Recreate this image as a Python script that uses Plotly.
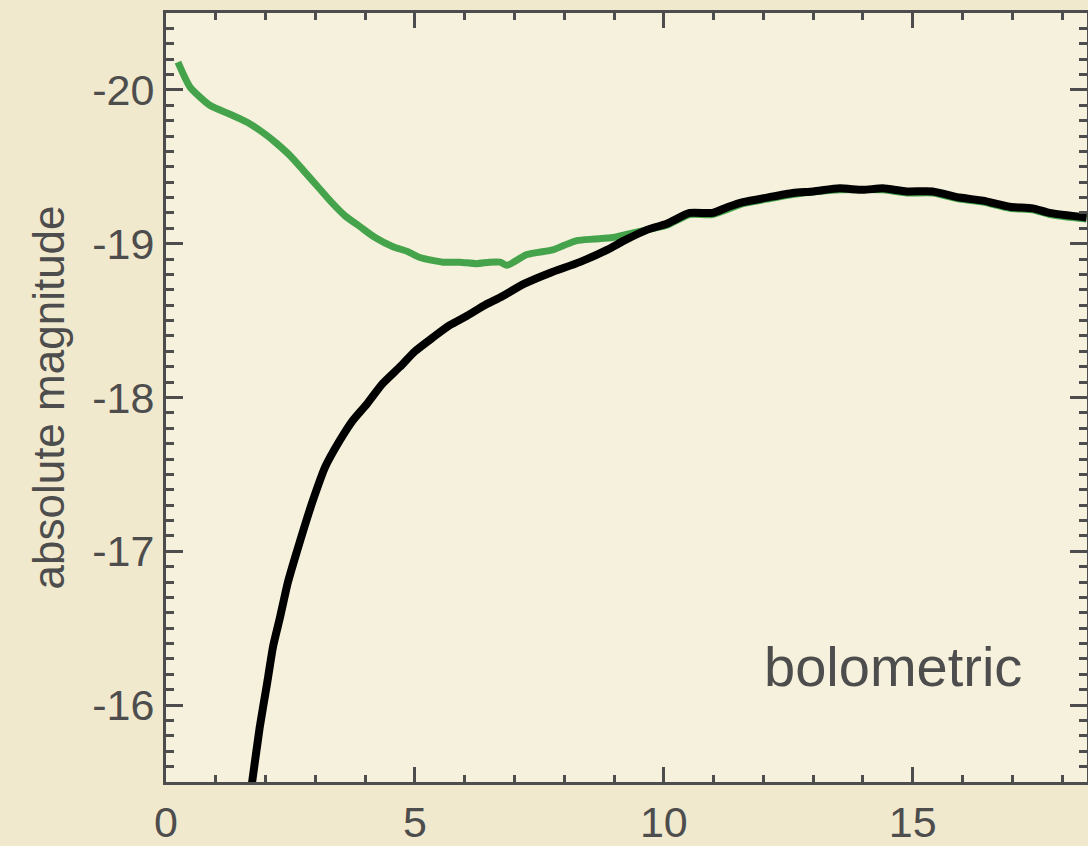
import plotly.graph_objects as go

# Green curve (e.g. total / with early excess)
green_t = [0.24, 0.48, 0.88, 1.30, 1.63, 2.00, 2.23, 2.50, 2.75, 3.05, 3.35, 3.60, 3.90,
           4.20, 4.56, 4.85, 5.10, 5.56, 5.90, 6.24, 6.50, 6.71, 6.85, 7.25, 7.77, 8.00,
           8.25, 8.60, 8.98, 9.38, 9.66, 10.06, 10.52, 10.98, 11.59, 12.07, 12.59, 13.53,
           14.40, 14.88, 15.40, 15.94, 16.41, 16.95, 17.41, 17.75, 18.49]
green_mag = [-20.18, -20.02, -19.90, -19.84, -19.79, -19.71, -19.65, -19.57, -19.48, -19.37,
             -19.26, -19.18, -19.11, -19.04, -18.98, -18.95, -18.91, -18.88, -18.88, -18.87,
             -18.88, -18.88, -18.86, -18.93, -18.96, -18.99, -19.02, -19.03, -19.04, -19.07,
             -19.09, -19.12, -19.19, -19.19, -19.26, -19.29, -19.32, -19.35, -19.35, -19.33,
             -19.33, -19.29, -19.27, -19.23, -19.22, -19.19, -19.16]

# Black curve (bolometric)
black_t = [1.66, 1.73, 1.88, 2.03, 2.15, 2.29, 2.45, 2.63, 2.80, 2.95, 3.20, 3.49, 3.75,
           4.04, 4.35, 4.70, 5.00, 5.36, 5.70, 6.04, 6.40, 6.71, 7.20, 7.71, 8.31, 8.86,
           9.20, 9.66, 10.06, 10.52, 10.98, 11.30, 11.59, 12.07, 12.59, 13.00, 13.53, 14.00,
           14.40, 14.88, 15.40, 15.94, 16.41, 16.95, 17.41, 17.75, 18.49]
black_mag = [-15.35, -15.50, -15.85, -16.14, -16.38, -16.57, -16.80, -17.00, -17.18, -17.33,
             -17.55, -17.72, -17.85, -17.96, -18.09, -18.20, -18.30, -18.39, -18.47, -18.53,
             -18.60, -18.65, -18.74, -18.81, -18.88, -18.96, -19.02, -19.09, -19.13, -19.20,
             -19.20, -19.24, -19.27, -19.30, -19.33, -19.34, -19.36, -19.35, -19.36, -19.34,
             -19.34, -19.30, -19.28, -19.24, -19.23, -19.20, -19.17]

x_ticks = [0, 5, 10, 15]
y_ticks = [-20, -19, -18, -17, -16]

AX = "#4d4d4d"
PAPER = "#f0e9cd"
FONT = "Liberation Sans, Arial, Helvetica, sans-serif"

fig = go.Figure()
fig.add_trace(go.Scatter(x=green_t, y=green_mag, mode="lines",
                         line=dict(color="#45a34b", width=7, shape="spline", smoothing=0.6),
                         showlegend=False))
fig.add_trace(go.Scatter(x=black_t, y=black_mag, mode="lines",
                         line=dict(color="#000000", width=8, shape="spline", smoothing=0.6),
                         showlegend=False))

fig.add_annotation(x=14.6, y=-16.25, text="bolometric", showarrow=False,
                   xanchor="center", yanchor="middle",
                   font=dict(family=FONT, size=56, color=AX))

fig.update_xaxes(range=[0, 18.5], tickvals=x_ticks, ticktext=[str(v) for v in x_ticks],
                 ticks="inside", ticklen=15, tickwidth=3, tickcolor=AX,
                 showline=True, linewidth=3, linecolor=AX, mirror="ticks",
                 showgrid=False, zeroline=False, automargin=False,
                 minor=dict(dtick=1, tick0=0, ticks="inside", ticklen=7, tickwidth=3,
                            tickcolor=AX, showgrid=False),
                 tickfont=dict(family=FONT, size=43, color=AX), ticklabelstandoff=0)
fig.update_yaxes(range=[-15.5, -20.5], tickvals=y_ticks, ticktext=[str(v) for v in y_ticks],
                 ticks="inside", ticklen=17, tickwidth=3, tickcolor=AX,
                 showline=True, linewidth=3, linecolor=AX, mirror="ticks",
                 showgrid=False, zeroline=False, automargin=False,
                 minor=dict(dtick=0.1, tick0=0, ticks="inside", ticklen=8, tickwidth=3,
                            tickcolor=AX, showgrid=False),
                 tickfont=dict(family=FONT, size=43, color=AX), ticklabelstandoff=0,
                 title=dict(text="absolute magnitude", standoff=14,
                            font=dict(family=FONT, size=44, color=AX)))

fig.update_layout(width=1088, height=846,
                  margin=dict(l=166, r=1, t=13, b=64),
                  paper_bgcolor=PAPER, plot_bgcolor="#f6f1dc",
                  font=dict(family=FONT, color=AX))

fig.write_html("out.html", config={"displayModeBar": False},
               post_script="document.body.style.margin='0';"
                           "document.body.style.overflow='hidden';"
                           "document.body.style.background='" + PAPER + "';")
